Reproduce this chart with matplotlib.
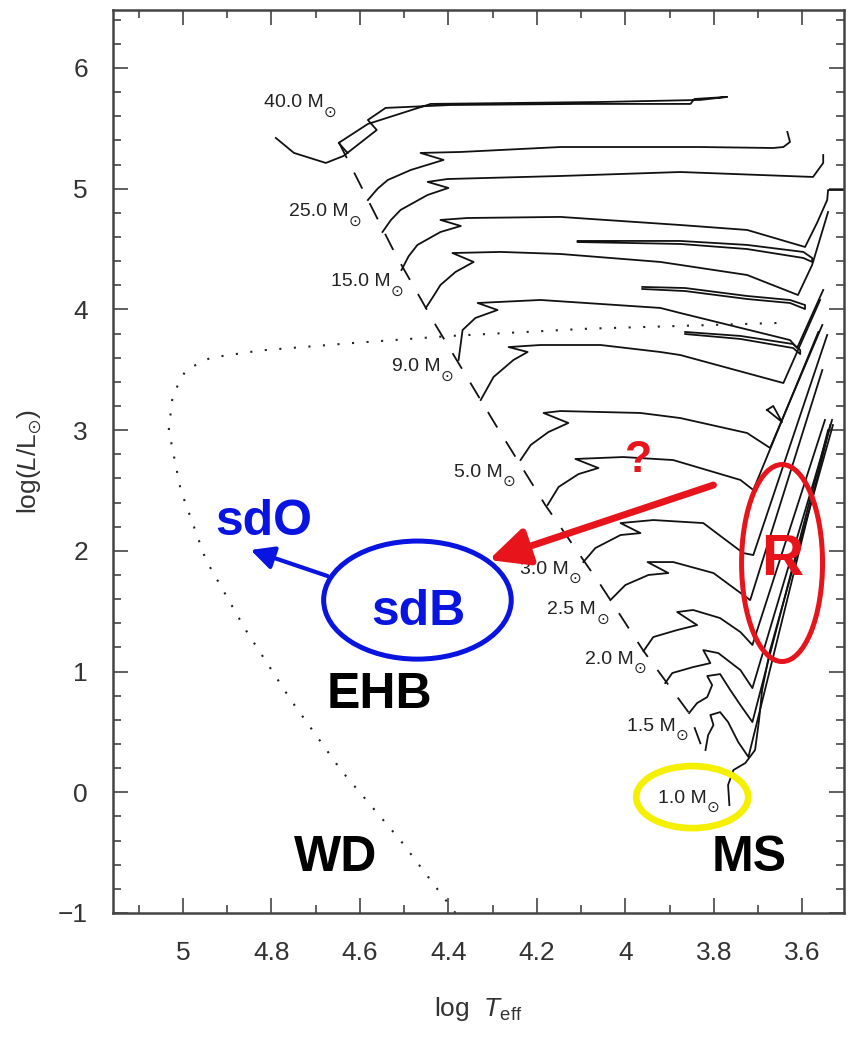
import matplotlib
matplotlib.use("Agg")
import matplotlib.pyplot as plt
from matplotlib.patches import Ellipse
from matplotlib.ticker import FixedLocator, MultipleLocator

plt.rcParams['font.family'] = ['Liberation Sans', 'DejaVu Sans']
plt.rcParams['mathtext.fontset'] = 'custom'
plt.rcParams['mathtext.rm'] = 'Liberation Sans'
plt.rcParams['mathtext.it'] = 'Liberation Sans:italic'
plt.rcParams['mathtext.fallback'] = 'stixsans'

# evolutionary tracks (log Teff, log L/Lsun)
t40_logT = [4.790, 4.749, 4.677, 4.637, 4.562, 4.582, 4.542, 4.395, 4.102, 3.853, 3.844, 3.770, 3.831, 4.056, 4.440, 4.582, 4.648, 4.628]
t40_logL = [5.420, 5.296, 5.213, 5.271, 5.486, 5.569, 5.669, 5.693, 5.702, 5.702, 5.743, 5.760, 5.735, 5.718, 5.702, 5.536, 5.379, 5.296]

t25_logT = [4.582, 4.560, 4.537, 4.485, 4.411, 4.463, 4.372, 4.147, 3.831, 3.666, 3.643, 3.628, 3.634]
t25_logL = [4.906, 5.000, 5.072, 5.155, 5.238, 5.296, 5.304, 5.345, 5.345, 5.337, 5.345, 5.387, 5.470]

t20_logT = [4.549, 4.530, 4.508, 4.447, 4.400, 4.447, 4.402, 4.147, 3.876, 3.576, 3.553, 3.553]
t20_logL = [4.641, 4.740, 4.824, 4.948, 5.006, 5.056, 5.080, 5.105, 5.138, 5.097, 5.213, 5.279]

t15_logT = [4.506, 4.490, 4.470, 4.418, 4.372, 4.418, 4.357, 4.147, 3.876, 3.725, 3.594, 3.567, 3.544, 3.542, 3.497]
t15_logL = [4.326, 4.440, 4.534, 4.641, 4.691, 4.741, 4.757, 4.766, 4.699, 4.658, 4.517, 4.716, 4.906, 4.989, 4.989]
loop15_logT = [4.108, 3.876, 3.725, 3.598, 3.578, 3.578, 3.598, 3.725, 3.876, 4.108]
loop15_logL = [4.567, 4.567, 4.534, 4.476, 4.426, 4.393, 4.426, 4.500, 4.542, 4.558]

t12_logT = [4.451, 4.432, 4.418, 4.384, 4.343, 4.391, 4.282, 4.147, 3.921, 3.725, 3.610, 3.578, 3.542]
t12_logL = [4.012, 4.120, 4.202, 4.310, 4.393, 4.467, 4.476, 4.459, 4.393, 4.285, 4.119, 4.368, 4.807]
loop12_logT = [3.962, 3.865, 3.725, 3.628, 3.594, 3.594, 3.628, 3.725, 3.865, 3.962]
loop12_logL = [4.186, 4.177, 4.111, 4.078, 4.036, 4.003, 4.053, 4.086, 4.152, 4.169]

t9_logT = [4.377, 4.368, 4.339, 4.289, 4.334, 4.192, 3.921, 3.876, 3.628, 3.612, 3.553]
t9_logL = [3.581, 3.829, 3.929, 3.995, 4.053, 4.078, 4.012, 3.970, 3.746, 3.680, 4.161]
loop9_logT = [3.865, 3.740, 3.621, 3.605, 3.605, 3.621, 3.740, 3.865]
loop9_logL = [3.813, 3.780, 3.713, 3.664, 3.630, 3.680, 3.755, 3.796]

t7_logT = [4.327, 4.298, 4.253, 4.221, 4.264, 4.192, 4.056, 3.921, 3.876, 3.643, 3.560]
t7_logL = [3.249, 3.440, 3.581, 3.647, 3.688, 3.705, 3.705, 3.647, 3.622, 3.390, 4.078]

t5_logT = [4.237, 4.214, 4.174, 4.129, 4.185, 4.147, 3.966, 3.876, 3.725, 3.673, 3.555]
t5_logL = [2.752, 2.877, 2.984, 3.059, 3.142, 3.158, 3.142, 3.100, 2.976, 2.852, 3.871]
loop5_logT = [3.680, 3.666, 3.646, 3.680]
loop5_logL = [3.167, 3.200, 3.067, 3.167]

t4_logT = [4.176, 4.151, 4.106, 4.061, 4.113, 4.005, 3.892, 3.740, 3.711, 3.564]
t4_logL = [2.379, 2.529, 2.636, 2.686, 2.761, 2.777, 2.752, 2.587, 2.504, 3.813]

t3_logT = [4.095, 4.068, 4.011, 3.966, 4.011, 3.937, 3.824, 3.734, 3.711, 3.544]
t3_logL = [1.907, 2.023, 2.131, 2.147, 2.230, 2.255, 2.230, 1.982, 1.965, 3.788]

t2p5_logT = [4.034, 4.000, 3.948, 3.903, 3.950, 3.892, 3.801, 3.718, 3.555]
t2p5_logL = [1.592, 1.717, 1.800, 1.816, 1.907, 1.907, 1.816, 1.592, 3.498]

t2_logT = [3.959, 3.937, 3.883, 3.838, 3.883, 3.847, 3.786, 3.740, 3.713, 3.549]
t2_logL = [1.170, 1.286, 1.344, 1.385, 1.493, 1.510, 1.443, 1.327, 1.220, 3.084]

t1p7_logT = [3.910, 3.894, 3.847, 3.808, 3.824, 3.790, 3.740, 3.713, 3.533]
t1p7_logL = [0.905, 0.988, 1.037, 1.070, 1.178, 1.153, 1.012, 0.863, 3.084]

t1p5_logT = [3.856, 3.838, 3.815, 3.804, 3.815, 3.786, 3.763, 3.740, 3.713, 3.542]
t1p5_logL = [0.656, 0.739, 0.789, 0.888, 0.963, 0.979, 0.847, 0.722, 0.582, 3.000]

t1p25_logT = [3.819, 3.813, 3.801, 3.808, 3.786, 3.768, 3.745, 3.722, 3.537]
t1p25_logL = [0.350, 0.474, 0.557, 0.640, 0.664, 0.582, 0.416, 0.292, 3.042]

t1_logT = [3.765, 3.768, 3.756, 3.729, 3.707, 3.698, 3.691, 3.673, 3.531]
t1_logL = [-0.106, 0.060, 0.184, 0.242, 0.350, 0.598, 0.847, 1.178, 3.042]

# dashed ZAMS line and dotted curve
zams_logT = [4.648, 4.519, 4.429, 4.293, 4.181, 4.056, 3.959, 3.856, 3.819]
zams_logL = [5.387, 4.451, 3.871, 3.042, 2.379, 1.717, 1.170, 0.656, 0.292]

dot_logT = [4.384, 4.508, 4.643, 4.756, 4.858, 4.948, 5.005, 5.032, 5.023, 4.993, 4.937, 4.824, 4.621, 4.395, 4.086, 3.632]
dot_logL = [-1.0, -0.40, 0.184, 0.764, 1.344, 1.924, 2.504, 3.0, 3.29, 3.50, 3.60, 3.66, 3.72, 3.78, 3.84, 3.89]

# mass labels
mass_labels = ["40.0", "25.0", "15.0", "9.0", "5.0", "3.0", "2.5", "2.0", "1.5", "1.0"]
mass_lab_T = [4.750, 4.692, 4.597, 4.473, 4.333, 4.184, 4.121, 4.037, 3.942, 3.872]
mass_lab_L = [5.710, 4.807, 4.227, 3.523, 2.653, 1.849, 1.510, 1.104, 0.548, -0.048]

xticks = [5, 4.8, 4.6, 4.4, 4.2, 4, 3.8, 3.6]
xticklabels = ["5", "4.8", "4.6", "4.4", "4.2", "4", "3.8", "3.6"]
yticks = [-1, 0, 1, 2, 3, 4, 5, 6]
yticklabels = ["\u22121", "0", "1", "2", "3", "4", "5", "6"]

RED = "#e8141c"
BLUE = "#0a14e0"
YELLOW = "#f4f000"

fig = plt.figure(figsize=(8.53, 10.40), dpi=100)
ax = fig.add_axes([113/853, 1-913/1040, 731/853, 903/1040])

tracks = [(t40_logT, t40_logL), (t25_logT, t25_logL), (t20_logT, t20_logL),
          (t15_logT, t15_logL), (loop15_logT, loop15_logL),
          (t12_logT, t12_logL), (loop12_logT, loop12_logL),
          (t9_logT, t9_logL), (loop9_logT, loop9_logL),
          (t7_logT, t7_logL), (t5_logT, t5_logL), (loop5_logT, loop5_logL),
          (t4_logT, t4_logL), (t3_logT, t3_logL), (t2p5_logT, t2p5_logL),
          (t2_logT, t2_logL), (t1p7_logT, t1p7_logL), (t1p5_logT, t1p5_logL),
          (t1p25_logT, t1p25_logL), (t1_logT, t1_logL)]
for lt, ll in tracks:
    ax.plot(lt, ll, color="#111111", lw=1.3, solid_joinstyle="round")

ax.plot(zams_logT, zams_logL, color="#111111", lw=1.3, dashes=[10, 9])
ax.plot(dot_logT, dot_logL, color="#222222", lw=1.5, linestyle=(0, (1, 6)))

for lab, lt, ll in zip(mass_labels, mass_lab_T, mass_lab_L):
    t = ax.text(lt, ll, lab + " M", fontsize=14, ha="center", va="center", color="#222222")
    # sun symbol as a lowered subscript after the M
    ax.annotate("\u2299", xy=(1.0, -0.05), xycoords=t, fontsize=11, family="DejaVu Sans",
                ha="left", va="center", color="#222222")

# annotations
ax.add_patch(Ellipse((3.646, 1.899), 0.183, 1.632, fill=False, ec=RED, lw=3.6, zorder=5))
ax.text(3.646, 1.924, "R", fontsize=42, fontweight="bold", color=RED, ha="center", va="center", zorder=6)
ax.text(3.971, 2.752, "?", fontsize=32, fontweight="bold", color=RED, ha="center", va="center", zorder=6)
ax.annotate("", xy=(4.309, 1.924), xytext=(3.801, 2.545),
            arrowprops=dict(arrowstyle="-|>,head_length=0.8,head_width=0.38", lw=5, color=RED,
                            mutation_scale=30, shrinkA=0, shrinkB=0), zorder=6)

ax.add_patch(Ellipse((4.470, 1.592), 0.424, 0.978, fill=False, ec=BLUE, lw=3.6, zorder=5))
ax.text(4.467, 1.493, "sdB", fontsize=36, fontweight="bold", color=BLUE, ha="center", va="center")
ax.text(4.817, 2.239, "sdO", fontsize=36, fontweight="bold", color=BLUE, ha="center", va="center")
ax.annotate("", xy=(4.847, 2.007), xytext=(4.673, 1.791),
            arrowprops=dict(arrowstyle="-|>,head_length=0.7,head_width=0.35", lw=3, color=BLUE,
                            mutation_scale=20, shrinkA=0, shrinkB=0))

ax.add_patch(Ellipse((3.849, -0.040), 0.253, 0.514, fill=False, ec=YELLOW, lw=4.8, zorder=5))

ax.text(4.555, 0.805, "EHB", fontsize=36, fontweight="bold", color="black", ha="center", va="center")
ax.text(4.655, -0.545, "WD", fontsize=36, fontweight="bold", color="black", ha="center", va="center")
ax.text(3.720, -0.545, "MS", fontsize=36, fontweight="bold", color="black", ha="center", va="center")

ax.set_xlim(5.158, 3.506)
ax.set_ylim(-1, 6.48)
ax.xaxis.set_major_locator(FixedLocator(xticks))
ax.set_xticklabels(xticklabels)
ax.yaxis.set_major_locator(FixedLocator(yticks))
ax.set_yticklabels(yticklabels)
ax.xaxis.set_minor_locator(MultipleLocator(0.1))
ax.yaxis.set_minor_locator(MultipleLocator(0.2))
ax.tick_params(which="both", direction="in", top=True, right=True, color="#444444", width=1.2,
               labelsize=19, labelcolor="#333333")
ax.tick_params(which="major", length=11, pad=20)
ax.tick_params(which="minor", length=6)
ax.tick_params(axis="y", pad=18)
for s in ax.spines.values():
    s.set_color("#444444")
    s.set_linewidth(1.8)

ax.set_xlabel(r"log  $T_{\rm eff}$", fontsize=19, color="#333333", labelpad=22)
ax.set_ylabel(r"log$(L/{\rm L}_{\odot})$", fontsize=19, color="#333333", labelpad=10)

fig.savefig("out.png", dpi=100)
